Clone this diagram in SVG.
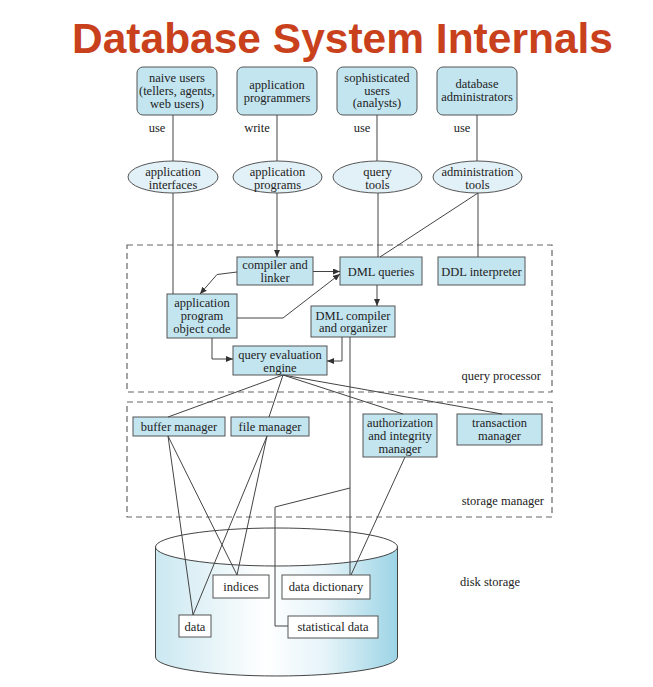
<svg xmlns="http://www.w3.org/2000/svg" width="653" height="687" viewBox="0 0 653 687">
<style>
.t{font-family:"Liberation Serif","Times New Roman",serif;font-size:12.5px;fill:#222;text-anchor:middle}
.tr{font-family:"Liberation Serif","Times New Roman",serif;font-size:12.5px;fill:#222;text-anchor:end}
.tl{font-family:"Liberation Serif","Times New Roman",serif;font-size:12.5px;fill:#222;text-anchor:start}
.box{fill:#c2e5f0;stroke:#555;stroke-width:1}
.ell{fill:#e2f1f7;stroke:#555;stroke-width:1}
.wb{fill:#fff;stroke:#555;stroke-width:1}
.dash{fill:none;stroke:#666;stroke-width:1.2;stroke-dasharray:6 4}
.c{fill:none;stroke:#444;stroke-width:1}
.title{font-family:"Liberation Sans",Arial,sans-serif;font-weight:bold;font-size:42.5px;fill:#c8411c;text-anchor:middle}
</style>
<defs>
<marker id="arr" markerWidth="7" markerHeight="6" refX="7" refY="3" orient="auto" markerUnits="userSpaceOnUse">
<path d="M0,0 L7,3 L0,6 z" fill="#333"/>
</marker>
<linearGradient id="cyl" x1="0" y1="0" x2="1" y2="0">
<stop offset="0" stop-color="#cbe8f1"/>
<stop offset="0.45" stop-color="#ffffff"/>
<stop offset="0.7" stop-color="#e6f4f9"/>
<stop offset="1" stop-color="#9cd4e5"/>
</linearGradient>
</defs>
<rect width="653" height="687" fill="#fff"/>
<text class="title" x="342.5" y="53">Database System Internals</text>

<g id="query-processor">
<rect class="dash" x="127" y="245" width="425" height="147"/>
<text class="tr" x="541" y="380">query processor</text>
</g>
<g id="storage-manager">
<rect class="dash" x="127" y="402" width="425" height="115"/>
<text class="tr" x="544" y="505">storage manager</text>
</g>

<g id="disk-storage">
<path d="M155.5,547 L155.5,657 A121,19 0 0 0 397.5,657 L397.5,547 Z" fill="url(#cyl)" stroke="#444" stroke-width="1"/>
<ellipse cx="276.5" cy="547" rx="121" ry="19" fill="#fff" stroke="#444" stroke-width="1"/>
<text class="tl" x="460" y="586">disk storage</text>
</g>

<g id="naive-users">
<rect class="box" x="137" y="67" width="80" height="48" rx="6"/>
<text class="t" x="177" y="82">naive users</text>
<text class="t" x="177" y="95">(tellers, agents,</text>
<text class="t" x="177" y="108">web users)</text>
</g>
<g id="application-programmers">
<rect class="box" x="237" y="67" width="80" height="48" rx="6"/>
<text class="t" x="277" y="88.5">application</text>
<text class="t" x="277" y="101.5">programmers</text>
</g>
<g id="sophisticated-users">
<rect class="box" x="337" y="67" width="80" height="48" rx="6"/>
<text class="t" x="377" y="82">sophisticated</text>
<text class="t" x="377" y="94.5">users</text>
<text class="t" x="377" y="107">(analysts)</text>
</g>
<g id="database-administrators">
<rect class="box" x="437" y="67" width="80" height="48" rx="6"/>
<text class="t" x="477" y="87.5">database</text>
<text class="t" x="477" y="100.5">administrators</text>
</g>

<g id="application-interfaces">
<ellipse class="ell" cx="173" cy="177" rx="45" ry="16"/>
<text class="t" x="173" y="175.5">application</text>
<text class="t" x="173" y="189">interfaces</text>
</g>
<g id="application-programs">
<ellipse class="ell" cx="277.5" cy="177" rx="44.5" ry="16"/>
<text class="t" x="277.5" y="175.5">application</text>
<text class="t" x="277.5" y="189">programs</text>
</g>
<g id="query-tools">
<ellipse class="ell" cx="377.5" cy="177" rx="44.5" ry="16"/>
<text class="t" x="377.5" y="175.5">query</text>
<text class="t" x="377.5" y="189">tools</text>
</g>
<g id="administration-tools">
<ellipse class="ell" cx="477.5" cy="177" rx="44.5" ry="16"/>
<text class="t" x="477.5" y="175.5">administration</text>
<text class="t" x="477.5" y="189">tools</text>
</g>

<g id="compiler-linker">
<rect class="box" x="237" y="257" width="76" height="28"/>
<text class="t" x="275" y="269">compiler and</text>
<text class="t" x="275" y="281.5">linker</text>
</g>
<g id="dml-queries">
<rect class="box" x="340" y="257" width="82" height="28"/>
<text class="t" x="381" y="276">DML queries</text>
</g>
<g id="ddl-interpreter">
<rect class="box" x="438" y="257" width="87" height="28"/>
<text class="t" x="481.5" y="276">DDL interpreter</text>
</g>
<g id="app-object-code">
<rect class="box" x="167" y="294" width="70" height="44"/>
<text class="t" x="202" y="307">application</text>
<text class="t" x="202" y="320">program</text>
<text class="t" x="202" y="332.5">object code</text>
</g>
<g id="dml-compiler">
<rect class="box" x="311" y="306" width="84" height="31"/>
<text class="t" x="353" y="319.5">DML compiler</text>
<text class="t" x="353" y="332">and organizer</text>
</g>
<g id="query-evaluation-engine">
<rect class="box" x="233" y="346" width="94" height="29"/>
<text class="t" x="280" y="358.5">query evaluation</text>
<text class="t" x="280" y="371.5">engine</text>
</g>

<g id="buffer-manager">
<rect class="box" x="133" y="417" width="92" height="19"/>
<text class="t" x="179" y="430.5">buffer manager</text>
</g>
<g id="file-manager">
<rect class="box" x="231" y="417" width="78" height="19"/>
<text class="t" x="270" y="430.5">file manager</text>
</g>
<g id="authorization-integrity-manager">
<rect class="box" x="363" y="414" width="74" height="43"/>
<text class="t" x="400" y="426.5">authorization</text>
<text class="t" x="400" y="440">and integrity</text>
<text class="t" x="400" y="453">manager</text>
</g>
<g id="transaction-manager">
<rect class="box" x="457" y="414" width="85" height="31"/>
<text class="t" x="499.5" y="426.5">transaction</text>
<text class="t" x="499.5" y="440">manager</text>
</g>

<g id="indices">
<rect class="wb" x="213" y="575" width="56" height="23"/>
<text class="t" x="241" y="591">indices</text>
</g>
<g id="data-dictionary">
<rect class="wb" x="282" y="575" width="88" height="24"/>
<text class="t" x="326" y="591">data dictionary</text>
</g>
<g id="data">
<rect class="wb" x="179" y="615" width="32" height="22"/>
<text class="t" x="195" y="630.5">data</text>
</g>
<g id="statistical-data">
<rect class="wb" x="288" y="616" width="90" height="22"/>
<text class="t" x="333" y="631">statistical data</text>
</g>

<g id="connectors">
<text class="t" x="157" y="132">use</text>
<text class="t" x="257" y="132">write</text>
<text class="t" x="362" y="132">use</text>
<text class="t" x="462" y="132">use</text>
<line class="c" x1="173" y1="115" x2="173" y2="161"/>
<line class="c" x1="277" y1="115" x2="277" y2="161"/>
<line class="c" x1="377" y1="115" x2="377" y2="161"/>
<line class="c" x1="477" y1="115" x2="477" y2="161"/>
<line class="c" x1="173" y1="193" x2="173" y2="294"/>
<line class="c" x1="277" y1="193" x2="277" y2="257" marker-end="url(#arr)"/>
<line class="c" x1="378" y1="193" x2="378" y2="257"/>
<line class="c" x1="478" y1="193" x2="478" y2="257"/>
<line class="c" x1="478" y1="193" x2="380" y2="257"/>
<line class="c" x1="313" y1="271.5" x2="340" y2="271.5" marker-end="url(#arr)"/>
<polyline class="c" points="237,272 217,274.5 200,294" marker-end="url(#arr)"/>
<polyline class="c" points="237,318 283,318 340,274" marker-end="url(#arr)"/>
<line class="c" x1="377" y1="285" x2="377" y2="306" marker-end="url(#arr)"/>
<polyline class="c" points="212,338 212,359 233,359" marker-end="url(#arr)"/>
<polyline class="c" points="342,337 342,361 327,361" marker-end="url(#arr)"/>
<line class="c" x1="350" y1="337" x2="350" y2="575"/>
<polyline class="c" points="350,488 275,507 275,626 288,626"/>
<line class="c" x1="283" y1="375" x2="168" y2="417"/>
<line class="c" x1="283" y1="375" x2="269" y2="417"/>
<line class="c" x1="283" y1="375" x2="403" y2="414"/>
<line class="c" x1="283" y1="375" x2="502" y2="414"/>
<line class="c" x1="168" y1="436" x2="193" y2="615"/>
<line class="c" x1="168" y1="436" x2="237" y2="575"/>
<line class="c" x1="267" y1="436" x2="193" y2="615"/>
<line class="c" x1="267" y1="436" x2="237" y2="575"/>
<line class="c" x1="405" y1="457" x2="351" y2="575"/>
</g>
</svg>
